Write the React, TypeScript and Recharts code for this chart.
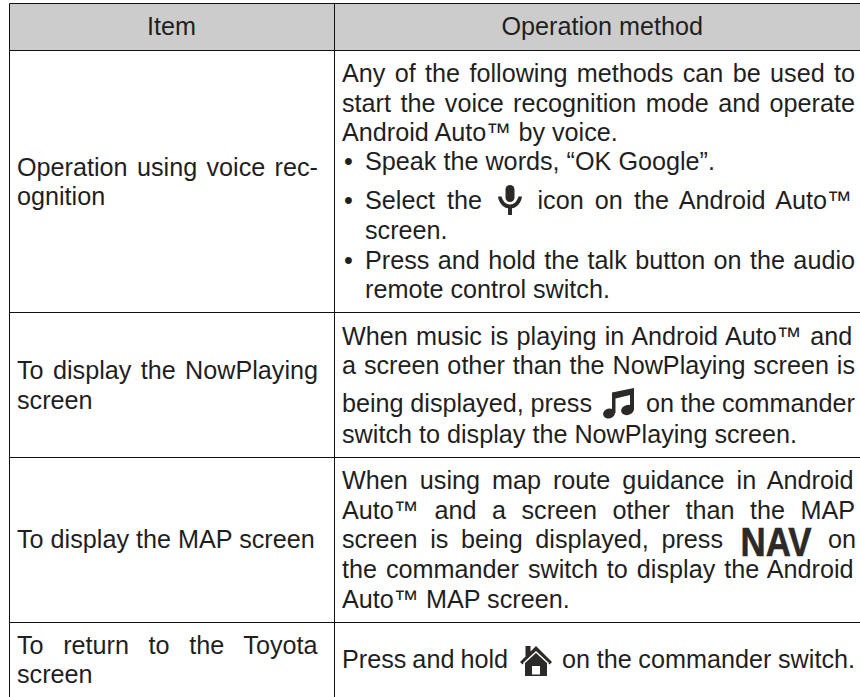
import { ComposedChart, ReferenceArea, ReferenceLine, Scatter, XAxis, YAxis } from "recharts";

const WIDTH = 860;
const HEIGHT = 697;
const FONT = "Liberation Sans";
const FONT_SIZE = 25.2;
const INK = "#1f1f1f";

// table rules, in picture units
const columnRules = [9.5, 334.5];
const rowRules = [3.5, 50.5, 312.5, 457.5, 622.5];

const headerLabels = ["Item", "Operation method"];
const headerStarts = [147, 501.5];
const headerBaselines = [35, 35];

const itemLabels = [
  "Operation using voice rec-",
  "ognition",
  "To display the NowPlaying",
  "screen",
  "To display the MAP screen",
  "To return to the Toyota",
  "screen",
];
const itemBaselines = [176, 205, 379, 409, 548, 654, 683];
const itemEnds = [318, null, 318, null, null, 318, null];

const methodLabels = [
  "Any of the following methods can be used to",
  "start the voice recognition mode and operate",
  "Android Auto™ by voice.",
  "Speak the words, “OK Google”.",
  "Select the",
  "icon on the Android Auto™",
  "screen.",
  "Press and hold the talk button on the audio",
  "remote control switch.",
  "When music is playing in Android Auto™ and",
  "a screen other than the NowPlaying screen is",
  "being displayed, press",
  "on the commander",
  "switch to display the NowPlaying screen.",
  "When using map route guidance in Android",
  "Auto™ and a screen other than the MAP",
  "screen is being displayed, press",
  "on",
  "the commander switch to display the Android",
  "Auto™ MAP screen.",
  "Press and hold",
  "on the commander switch.",
];
const methodBaselines = [82, 112, 141, 170, 209, 209, 239, 269, 298, 345, 374, 412, 412, 443, 489, 519, 548, 548, 578, 608, 668, 668];
const methodStarts = [342, 342, 342, 365, 365, 537.5, 365, 365, 365, 342, 342, 342, 646, 342, 342, 342, 342, 828, 342, 342, 342, 562];
const methodEnds = [855, 855, null, null, 482, 855, null, 855, null, 855, 855, 592, 855, null, 855, 855, 723, null, 855, null, 508, 855];

const bulletBaselines = [170, 209, 269];
const bulletX = 344;

const navLabel = "NAV";
const navStart = 740.5;
const navBaseline = 556;

const iconNames = ["mic", "note", "home"];
const iconX = [510, 620, 536];
const iconY = [200, 404, 661];

let ctx: CanvasRenderingContext2D | null = null;
function measure(text: string) {
  if (!ctx) ctx = document.createElement("canvas").getContext("2d");
  ctx!.font = `${FONT_SIZE}px "${FONT}"`;
  return ctx!.measureText(text).width;
}

const cells = [
  ...headerLabels.map((text, i) => ({ text, x: headerStarts[i], y: headerBaselines[i], end: null as number | null })),
  ...itemLabels.map((text, i) => ({ text, x: 17, y: itemBaselines[i], end: itemEnds[i] })),
  ...methodLabels.map((text, i) => ({ text, x: methodStarts[i], y: methodBaselines[i], end: methodEnds[i] })),
  ...bulletBaselines.map((y) => ({ text: "•", x: bulletX, y, end: null as number | null })),
];
const navCells = [{ text: navLabel, x: navStart, y: navBaseline }];
const icons = iconNames.map((name, i) => ({ name, x: iconX[i], y: iconY[i] }));

function CellText(props: any) {
  const { cx, cy, payload } = props;
  const gaps = payload.text.split(" ").length - 1;
  let spacing = 0;
  if (payload.end != null && gaps > 0) {
    spacing = (payload.end - payload.x - measure(payload.text)) / gaps;
  }
  return (
    <text x={cx} y={cy} fontFamily={FONT} fontSize={FONT_SIZE} fill={INK} style={{ wordSpacing: spacing }}>
      {payload.text}
    </text>
  );
}

function NavText(props: any) {
  return (
    <text
      x={props.cx}
      y={props.cy}
      fontFamily={FONT}
      fontWeight="bold"
      fontSize={40}
      fill="#2b2a28"
      stroke="#2b2a28"
      strokeWidth={0.6}
      textLength={71}
      lengthAdjust="spacingAndGlyphs"
    >
      {props.payload.text}
    </text>
  );
}

function Icon(props: any) {
  const { cx, cy, payload } = props;
  if (payload.name === "mic") {
    return (
      <g transform={`translate(${cx},${cy})`} fill="#2b2a28">
        <rect x={-4.5} y={-15} width={9} height={17} rx={4.5} />
        <path d="M-12,-3.5 C-11,4 -6,8.5 0,8.5 C6,8.5 11,4 12,-3.5 L8.5,-3.5 C7,1.5 4,4.5 0,4.5 C-4,4.5 -7,1.5 -8.5,-3.5 Z" />
        <rect x={-2} y={6} width={4} height={9} />
      </g>
    );
  }
  if (payload.name === "note") {
    return (
      <g transform={`translate(${cx},${cy})`} fill="#2b2a28">
        <path d="M-8,-11.5 L14,-16 L14,6 L10,6 L10,-9 L-4.5,-5.5 L-4.5,9 L-8,9 Z" />
        <ellipse cx={-11} cy={9.5} rx={6} ry={5} transform="rotate(-15 -11 9.5)" />
        <ellipse cx={7.5} cy={6} rx={6.5} ry={5} transform="rotate(-15 7.5 6)" />
      </g>
    );
  }
  return (
    <g transform={`translate(${cx},${cy})`} fill="#2b2a28">
      <path d="M0,-15 L16,1 L13.5,3.5 L11,1 L11,15 L-11,15 L-11,1 L-13.5,3.5 L-16,1 L-10.5,-4.5 L-10.5,-15 L-5.5,-15 L-5.5,-9.5 Z" />
      <path d="M-12.5,2.5 L0,-9 L12.5,2.5" fill="none" stroke="#fff" strokeWidth={1.5} />
      <rect x={-4} y={5} width={8} height={8.5} fill="#fff" />
    </g>
  );
}

export default function App() {
  return (
    <div style={{ position: "absolute", left: 0, top: 0, width: WIDTH, height: HEIGHT, background: "#fff" }}>
      <ComposedChart width={WIDTH} height={HEIGHT} margin={{ top: 0, right: 0, bottom: 0, left: 0 }}>
        <XAxis type="number" dataKey="x" domain={[0, WIDTH]} hide />
        <YAxis type="number" dataKey="y" domain={[0, HEIGHT]} reversed hide />
        <ReferenceArea x1={columnRules[0]} x2={WIDTH} y1={rowRules[0]} y2={rowRules[1]} fill="#cccccc" fillOpacity={1} stroke="none" />
        {rowRules.map((y) => (
          <ReferenceLine key={y} segment={[{ x: columnRules[0], y }, { x: WIDTH, y }]} stroke="#111" strokeWidth={1} />
        ))}
        {columnRules.map((x) => (
          <ReferenceLine key={x} segment={[{ x, y: rowRules[0] }, { x, y: HEIGHT }]} stroke="#111" strokeWidth={1} />
        ))}
        <Scatter data={cells} shape={CellText} isAnimationActive={false} />
        <Scatter data={navCells} shape={NavText} isAnimationActive={false} />
        <Scatter data={icons} shape={Icon} isAnimationActive={false} />
      </ComposedChart>
    </div>
  );
}
